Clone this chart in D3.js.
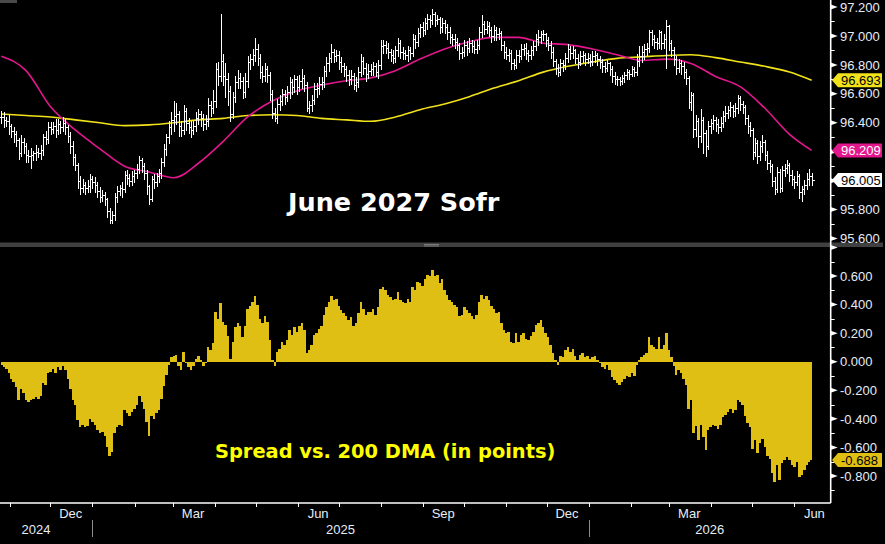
<!DOCTYPE html>
<html>
<head>
<meta charset="utf-8">
<script src="https://cdnjs.cloudflare.com/ajax/libs/d3/7.8.5/d3.min.js"></script>
<style>
  html, body { margin: 0; padding: 0; background: #000; }
  svg { display: block; }
</style>
</head>
<body>
<svg id="chart" width="885" height="544"></svg>
<script>
// daily bars, June 2027 SOFR future
var closes = [
  96.44,96.42,96.41,96.38,96.34,96.32,96.28,96.19,96.27,96.24,
  96.18,96.17,96.18,96.19,96.20,96.19,96.21,96.30,96.29,96.37,
  96.36,96.38,96.35,96.39,96.37,96.40,96.37,96.31,96.24,96.16,
  96.11,96.00,95.95,95.97,95.95,95.96,96.01,95.99,95.97,95.93,
  95.89,95.90,95.87,95.79,95.73,95.76,95.89,95.93,95.95,95.94,
  96.04,96.02,96.00,96.03,96.05,96.08,96.14,96.10,96.05,95.96,
  95.87,96.01,95.99,96.03,96.05,96.13,96.22,96.30,96.37,96.42,
  96.45,96.46,96.38,96.35,96.48,96.40,96.37,96.35,96.38,96.43,
  96.46,96.43,96.39,96.41,96.52,96.50,96.55,96.77,96.72,96.83,
  96.72,96.70,96.62,96.46,96.58,96.68,96.71,96.69,96.61,96.69,
  96.82,96.84,96.87,96.91,96.85,96.75,96.72,96.77,96.73,96.60,
  96.47,96.43,96.53,96.55,96.60,96.58,96.61,96.68,96.65,96.70,
  96.65,96.69,96.71,96.66,96.50,96.52,96.56,96.63,96.64,96.67,
  96.68,96.76,96.81,96.85,96.89,96.86,96.87,96.82,96.79,96.77,
  96.73,96.70,96.72,96.66,96.68,96.75,96.83,96.78,96.74,96.76,
  96.77,96.79,96.75,96.80,96.93,96.94,96.92,96.89,96.87,96.85,
  96.90,96.95,96.89,96.88,96.87,96.90,96.88,96.98,96.96,97.02,
  97.06,97.04,97.09,97.12,97.11,97.15,97.11,97.12,97.06,97.09,
  97.06,97.03,96.99,96.98,96.96,96.94,96.88,96.89,96.94,96.92,
  96.95,96.93,96.91,96.94,97.03,97.08,97.05,97.07,97.04,97.00,
  97.04,97.01,97.02,96.94,96.89,96.87,96.88,96.81,96.80,96.87,
  96.86,96.91,96.92,96.88,96.87,96.90,96.93,96.98,96.99,97.01,
  97.01,96.97,96.94,96.89,96.83,96.78,96.75,96.81,96.80,96.85,
  96.91,96.88,96.90,96.85,96.82,96.86,96.87,96.84,96.85,96.83,
  96.86,96.87,96.84,96.82,96.79,96.78,96.81,96.77,96.72,96.70,
  96.70,96.69,96.71,96.73,96.75,96.74,96.77,96.75,96.83,96.86,
  96.89,96.91,96.92,97.03,96.98,96.96,96.95,97.03,96.95,96.98,
  97.07,96.95,96.90,96.84,96.78,96.81,96.79,96.75,96.71,96.54,
  96.59,96.36,96.41,96.31,96.42,96.33,96.24,96.38,96.40,96.42,
  96.39,96.37,96.40,96.45,96.47,96.49,96.51,96.48,96.50,96.57,
  96.53,96.51,96.43,96.38,96.35,96.20,96.26,96.17,96.24,96.27,
  96.18,96.12,96.10,96.00,95.94,96.06,95.95,96.07,96.09,96.11,
  96.04,96.01,95.99,96.03,95.92,95.94,95.97,96.01,96.03,96.005
];
var highs = [
  96.49,96.48,96.45,96.46,96.40,96.38,96.35,96.30,96.32,96.30,
  96.27,96.22,96.23,96.21,96.25,96.23,96.25,96.33,96.35,96.41,
  96.41,96.41,96.43,96.43,96.42,96.45,96.43,96.39,96.34,96.28,
  96.19,96.13,96.04,96.02,96.00,96.01,96.05,96.04,96.03,96.00,
  95.96,95.94,95.93,95.89,95.82,95.80,95.92,95.97,95.98,96.00,
  96.07,96.08,96.05,96.07,96.08,96.12,96.18,96.16,96.13,96.08,
  95.98,96.04,96.05,96.06,96.09,96.16,96.26,96.33,96.42,96.48,
  96.56,96.54,96.49,96.42,96.53,96.51,96.44,96.42,96.42,96.48,
  96.50,96.49,96.47,96.46,96.58,96.56,96.63,96.82,96.83,97.16,
  96.88,96.82,96.75,96.66,96.62,96.73,96.77,96.75,96.72,96.75,
  96.87,96.88,96.92,96.99,96.95,96.88,96.80,96.82,96.80,96.76,
  96.63,96.51,96.57,96.60,96.64,96.63,96.66,96.72,96.71,96.74,
  96.73,96.74,96.78,96.74,96.69,96.56,96.60,96.68,96.68,96.72,
  96.72,96.80,96.86,96.89,96.95,96.92,96.91,96.90,96.86,96.82,
  96.80,96.77,96.77,96.75,96.72,96.79,96.88,96.86,96.82,96.81,
  96.81,96.83,96.82,96.84,96.98,96.98,96.97,96.96,96.92,96.91,
  96.94,96.99,96.98,96.93,96.91,96.94,96.93,97.02,97.01,97.06,
  97.09,97.10,97.13,97.16,97.15,97.19,97.17,97.15,97.14,97.13,
  97.12,97.09,97.07,97.02,97.02,96.99,96.96,96.93,96.98,96.97,
  96.99,96.98,96.97,96.98,97.07,97.15,97.11,97.11,97.10,97.07,
  97.08,97.07,97.06,97.04,96.97,96.93,96.92,96.91,96.85,96.91,
  96.91,96.95,96.95,96.96,96.91,96.94,96.97,97.02,97.05,97.04,
  97.05,97.03,97.00,96.97,96.93,96.85,96.81,96.85,96.84,96.89,
  96.95,96.94,96.94,96.92,96.88,96.90,96.90,96.89,96.89,96.88,
  96.90,96.90,96.89,96.87,96.85,96.83,96.84,96.83,96.80,96.76,
  96.73,96.72,96.74,96.76,96.78,96.77,96.80,96.79,96.88,96.94,
  96.94,96.95,96.96,97.05,97.05,97.01,96.99,97.05,97.04,97.02,
  97.12,97.08,96.98,96.93,96.87,96.85,96.84,96.83,96.78,96.73,
  96.62,96.61,96.46,96.44,96.50,96.45,96.36,96.42,96.43,96.46,
  96.45,96.43,96.45,96.49,96.52,96.52,96.55,96.53,96.54,96.60,
  96.59,96.56,96.53,96.46,96.41,96.37,96.30,96.29,96.28,96.32,
  96.29,96.21,96.15,96.12,96.03,96.10,96.09,96.11,96.12,96.15,
  96.13,96.08,96.04,96.07,96.05,95.97,96.01,96.06,96.09,96.06
];
var lows = [
  96.40,96.37,96.38,96.32,96.30,96.27,96.24,96.15,96.17,96.19,
  96.13,96.13,96.09,96.14,96.14,96.16,96.15,96.18,96.25,96.26,
  96.32,96.33,96.30,96.32,96.33,96.34,96.32,96.27,96.19,96.11,
  96.07,95.95,95.91,95.92,95.91,95.92,95.92,95.95,95.92,95.89,
  95.85,95.86,95.83,95.75,95.71,95.71,95.73,95.85,95.90,95.89,
  95.92,95.98,95.96,95.97,95.99,96.02,96.05,96.06,96.01,95.91,
  95.84,95.86,95.95,95.96,95.99,96.02,96.10,96.18,96.26,96.32,
  96.34,96.39,96.31,96.31,96.32,96.35,96.33,96.30,96.32,96.34,
  96.39,96.38,96.35,96.36,96.38,96.45,96.47,96.51,96.66,96.69,
  96.66,96.58,96.52,96.41,96.43,96.54,96.64,96.64,96.57,96.58,
  96.65,96.77,96.80,96.83,96.80,96.71,96.68,96.69,96.68,96.56,
  96.43,96.41,96.40,96.49,96.52,96.53,96.55,96.57,96.60,96.61,
  96.60,96.62,96.64,96.62,96.48,96.47,96.48,96.53,96.58,96.60,
  96.63,96.65,96.72,96.76,96.82,96.82,96.83,96.77,96.75,96.72,
  96.69,96.66,96.67,96.63,96.62,96.65,96.72,96.74,96.69,96.71,
  96.73,96.73,96.72,96.71,96.77,96.88,96.88,96.85,96.83,96.81,
  96.82,96.86,96.85,96.84,96.84,96.83,96.84,96.86,96.92,96.93,
  96.99,97.00,97.01,97.05,97.06,97.08,97.07,97.08,97.02,97.03,
  97.02,96.98,96.95,96.94,96.92,96.90,96.84,96.85,96.86,96.87,
  96.89,96.89,96.88,96.88,96.91,96.99,97.01,97.02,97.00,96.96,
  96.97,96.97,96.98,96.90,96.85,96.84,96.83,96.77,96.77,96.78,
  96.82,96.84,96.87,96.84,96.83,96.84,96.87,96.90,96.94,96.95,
  96.97,96.93,96.90,96.85,96.79,96.74,96.72,96.73,96.76,96.77,
  96.82,96.84,96.85,96.81,96.78,96.80,96.82,96.80,96.81,96.79,
  96.80,96.82,96.80,96.78,96.75,96.75,96.76,96.73,96.68,96.67,
  96.66,96.66,96.67,96.68,96.70,96.70,96.72,96.72,96.73,96.79,
  96.82,96.84,96.87,96.89,96.94,96.92,96.91,96.92,96.91,96.92,
  96.78,96.90,96.86,96.80,96.74,96.75,96.74,96.71,96.67,96.50,
  96.49,96.30,96.31,96.23,96.27,96.19,96.17,96.22,96.33,96.36,
  96.34,96.33,96.34,96.37,96.41,96.43,96.45,96.44,96.45,96.47,
  96.49,96.47,96.39,96.33,96.31,96.15,96.17,96.12,96.14,96.20,
  96.14,96.08,96.06,95.96,95.91,95.92,95.92,95.93,96.03,96.05,
  96.00,95.97,95.95,95.97,95.88,95.86,95.91,95.94,95.97,95.97
];
// close minus 200 DMA, same days
var spread = [
  -0.02,-0.04,-0.05,-0.08,-0.12,-0.14,-0.18,-0.27,-0.19,-0.22,
  -0.27,-0.28,-0.27,-0.26,-0.25,-0.26,-0.24,-0.15,-0.16,-0.08,
  -0.07,-0.05,-0.08,-0.04,-0.06,-0.03,-0.06,-0.12,-0.19,-0.27,
  -0.30,-0.41,-0.46,-0.44,-0.46,-0.45,-0.40,-0.42,-0.44,-0.48,
  -0.50,-0.49,-0.52,-0.60,-0.66,-0.63,-0.50,-0.46,-0.44,-0.45,
  -0.34,-0.36,-0.38,-0.35,-0.33,-0.30,-0.24,-0.28,-0.33,-0.42,
  -0.52,-0.38,-0.40,-0.36,-0.34,-0.26,-0.17,-0.09,-0.02,0.03,
  0.04,0.05,-0.03,-0.06,0.07,-0.01,-0.04,-0.06,-0.03,0.02,
  0.04,0.01,-0.03,-0.01,0.10,0.08,0.13,0.35,0.30,0.41,
  0.28,0.26,0.18,0.02,0.14,0.24,0.27,0.25,0.17,0.25,
  0.37,0.39,0.42,0.46,0.40,0.30,0.27,0.32,0.28,0.15,
  0.01,-0.03,0.07,0.09,0.14,0.12,0.15,0.22,0.19,0.24,
  0.21,0.25,0.27,0.22,0.06,0.08,0.12,0.19,0.20,0.23,
  0.25,0.33,0.38,0.42,0.46,0.43,0.44,0.39,0.36,0.34,
  0.32,0.29,0.31,0.25,0.27,0.34,0.42,0.37,0.33,0.35,
  0.35,0.37,0.33,0.38,0.51,0.52,0.50,0.47,0.45,0.43,
  0.44,0.49,0.43,0.42,0.41,0.44,0.42,0.52,0.50,0.56,
  0.55,0.53,0.58,0.61,0.60,0.64,0.60,0.61,0.55,0.58,
  0.50,0.47,0.43,0.42,0.40,0.38,0.32,0.33,0.38,0.36,
  0.34,0.32,0.30,0.33,0.42,0.47,0.44,0.46,0.43,0.39,
  0.37,0.34,0.35,0.27,0.22,0.20,0.21,0.14,0.13,0.20,
  0.14,0.19,0.20,0.16,0.15,0.18,0.21,0.26,0.27,0.29,
  0.24,0.20,0.17,0.12,0.06,0.01,-0.02,0.04,0.03,0.08,
  0.10,0.07,0.09,0.04,0.01,0.05,0.06,0.03,0.04,0.02,
  0.03,0.04,0.01,-0.01,-0.04,-0.05,-0.02,-0.06,-0.11,-0.13,
  -0.15,-0.16,-0.14,-0.12,-0.10,-0.11,-0.08,-0.10,-0.02,0.01,
  0.03,0.05,0.06,0.17,0.12,0.10,0.09,0.17,0.09,0.12,
  0.20,0.08,0.03,-0.03,-0.09,-0.06,-0.08,-0.12,-0.16,-0.33,
  -0.27,-0.50,-0.45,-0.55,-0.44,-0.53,-0.62,-0.48,-0.46,-0.44,
  -0.45,-0.47,-0.44,-0.39,-0.37,-0.35,-0.33,-0.36,-0.34,-0.27,
  -0.28,-0.30,-0.38,-0.43,-0.46,-0.61,-0.55,-0.64,-0.57,-0.54,
  -0.60,-0.66,-0.68,-0.78,-0.84,-0.72,-0.83,-0.71,-0.69,-0.67,
  -0.69,-0.72,-0.74,-0.70,-0.81,-0.79,-0.76,-0.72,-0.70,-0.688
];
// moving averages, read every 10th bar
var maIdx = [0,10,20,30,40,50,60,70,80,90,100,110,120,130,140,150,160,170,180,190,200,210,220,230,240,250,260,270,280,290,300,310,320,329];
var ma200 = [96.46,96.45,96.44,96.42,96.40,96.38,96.385,96.40,96.42,96.43,96.45,96.455,96.45,96.43,96.42,96.41,96.44,96.49,96.53,96.58,96.64,96.69,96.75,96.79,96.82,96.845,96.855,96.865,96.87,96.85,96.82,96.79,96.75,96.693];
var ma50 = [96.86,96.76,96.51,96.35,96.22,96.10,96.06,96.02,96.12,96.27,96.44,96.55,96.62,96.66,96.69,96.71,96.76,96.84,96.91,96.96,96.99,96.99,96.95,96.94,96.91,96.87,96.83,96.84,96.81,96.72,96.65,96.50,96.32,96.209];

var priceTicks = [95.6, 95.8, 96.0, 96.2, 96.4, 96.6, 96.8, 97.0, 97.2];
var priceLabels = ['95.600', '95.800', '', '', '96.400', '96.600', '96.800', '97.000', '97.200'];
var spreadTicks = [-0.8, -0.6, -0.4, -0.2, 0, 0.2, 0.4, 0.6, 0.8];
var spreadLabels = ['-0.800', '-0.600', '-0.400', '-0.200', '0.000', '0.200', '0.400', '0.600', ''];
var monthLabels = ['Dec', 'Mar', 'Jun', 'Sep', 'Dec', 'Mar', 'Jun'];
var monthLabelDates = ['2024-12', '2025-03', '2025-06', '2025-09', '2025-12', '2026-03', '2026-06'];
var yearLabels = ['2024', '2025', '2026'];

var firstDay = new Date(2024, 9, 26), lastDay = new Date(2026, 5, 14);

var svg = d3.select('#chart');
var axisX = 830.7, axisBottom = 503;
var white = '#ffffff', txt = '#e6edf6';
var yellow = '#f2e21a', magenta = '#e3178d', gold = '#dfbf13';
var fmt = d3.formatLocale({decimal: '.', thousands: ',', grouping: [3], currency: ['', ''], minus: '-'}).format('.3f');

var x = d3.scaleTime().domain([new Date(2024, 9, 25), new Date(2026, 5, 28)]).range([0, axisX]);
var barDate = d3.scaleLinear().domain([0, closes.length - 1]).range([firstDay, lastDay]);
var yTop = d3.scaleLinear().domain([95.6, 97.2]).range([238.5, 7]);
var yBot = d3.scaleLinear().domain([-0.8, 0.6]).range([476, 276]);

var defs = svg.append('defs');
defs.append('clipPath').attr('id', 'clipTop').append('rect').attr('x', 0).attr('y', 0).attr('width', axisX).attr('height', 242);
defs.append('clipPath').attr('id', 'clipBot').append('rect').attr('x', 0).attr('y', 248).attr('width', axisX).attr('height', axisBottom - 248);

svg.append('rect').attr('width', 885).attr('height', 544).attr('fill', '#000');
svg.append('rect').attr('x', 0).attr('y', 0).attr('width', 17).attr('height', 3).attr('fill', '#4a4a4a');

// ---- top panel
var gTop = svg.append('g').attr('clip-path', 'url(#clipTop)');

var maLine = function(vals) {
  return d3.line().curve(d3.curveMonotoneX)
    .x(function(d, i) { return x(barDate(maIdx[i])); })
    .y(function(d) { return yTop(d); })(vals);
};
gTop.append('path').attr('d', maLine(ma200)).attr('fill', 'none').attr('stroke', yellow).attr('stroke-width', 1.6);
gTop.append('path').attr('d', maLine(ma50)).attr('fill', 'none').attr('stroke', magenta).attr('stroke-width', 1.6);

var bx = function(i) { return Math.round(x(barDate(i))) + 0.5; };
var by = function(v) { return Math.round(yTop(v)) + 0.5; };
gTop.append('g').attr('stroke', white).attr('stroke-width', 1).attr('fill', 'none').attr('shape-rendering', 'crispEdges')
  .selectAll('path').data(closes).enter().append('path')
  .attr('d', function(c, i) {
    var xx = bx(i), o = i ? closes[i - 1] : c;
    return 'M' + xx + ',' + by(highs[i]) + 'V' + by(lows[i]) +
      'M' + (xx - 2) + ',' + by(o) + 'H' + xx +
      'M' + xx + ',' + by(c) + 'H' + (xx + 2);
  });

svg.append('text').attr('x', 288).attr('y', 211)
  .attr('font-family', 'DejaVu Sans, Verdana, sans-serif').attr('font-weight', 'bold').attr('font-size', 25.5)
  .attr('fill', white).text('June 2027 Sofr');

// ---- splitter
svg.append('rect').attr('x', 0).attr('y', 242.5).attr('width', 883).attr('height', 4.5).attr('fill', '#404040');
svg.append('path').attr('d', 'M424,244.5H439M424,246H439').attr('stroke', '#8a8a8a').attr('stroke-width', 0.8);

// ---- bottom panel
var gBot = svg.append('g').attr('clip-path', 'url(#clipBot)');
var area = d3.area().curve(d3.curveStep)
  .x(function(d, i) { return x(barDate(i)); })
  .y0(yBot(0))
  .y1(function(d) { return yBot(d); });
gBot.append('path').attr('d', area(spread)).attr('fill', gold).attr('shape-rendering', 'crispEdges');

svg.append('text').attr('x', 215).attr('y', 458)
  .attr('font-family', 'DejaVu Sans, Verdana, sans-serif').attr('font-weight', 'bold').attr('font-size', 19.4)
  .attr('fill', '#ffff00').text('Spread vs. 200 DMA (in points)');

// ---- right axis
svg.append('path').attr('d', 'M' + axisX + ',0V' + axisBottom).attr('stroke', white).attr('stroke-width', 1.6);
svg.append('path').attr('d', 'M0,' + axisBottom + 'H' + axisX).attr('stroke', white).attr('stroke-width', 1.4);

var arrow = function(y) { return 'M' + axisX + ',' + (y - 2.5) + 'L' + (axisX + 7) + ',' + y + 'L' + axisX + ',' + (y + 2.5) + 'Z'; };
var minor = function(y) { return 'M' + axisX + ',' + y + 'H' + (axisX + 4); };

var rAxis = svg.append('g');
rAxis.selectAll('path.tp').data(priceTicks).enter().append('path').attr('class', 'tp')
  .attr('d', function(d) { return arrow(yTop(d)); }).attr('fill', white);
rAxis.selectAll('path.tpm').data(priceTicks.slice(0, -1)).enter().append('path').attr('class', 'tpm')
  .attr('d', function(d) { return minor(Math.round(yTop(d + 0.1)) + 0.5); }).attr('stroke', white);
rAxis.selectAll('path.bp').data(spreadTicks).enter().append('path').attr('class', 'bp')
  .attr('d', function(d) { return arrow(yBot(d)); }).attr('fill', white);
rAxis.selectAll('path.bpm').data(spreadTicks.slice(0, -1).concat([-1.0])).enter().append('path').attr('class', 'bpm')
  .attr('d', function(d) { return minor(Math.round(yBot(d + 0.1)) + 0.5); }).attr('stroke', white);

rAxis.selectAll('text.tl').data(priceTicks).enter().append('text').attr('class', 'tl')
  .attr('x', 840).attr('y', function(d) { return yTop(d); }).attr('dy', '0.36em')
  .attr('font-family', 'Liberation Sans, Arial, sans-serif').attr('font-size', 13).attr('fill', txt)
  .text(function(d, i) { return priceLabels[i]; });
rAxis.selectAll('text.bl').data(spreadTicks).enter().append('text').attr('class', 'bl')
  .attr('x', 840).attr('y', function(d) { return yBot(d); }).attr('dy', '0.36em')
  .attr('font-family', 'Liberation Sans, Arial, sans-serif').attr('font-size', 13).attr('fill', txt)
  .text(function(d, i) { return spreadLabels[i]; });

// last value badges
var badge = function(yv, val, fill, color) {
  var g = svg.append('g');
  g.append('path').attr('d', 'M832,' + yv + 'L838,' + (yv - 7) + 'H882V' + (yv + 7) + 'H838Z').attr('fill', fill);
  g.append('text').attr('x', 841).attr('y', yv).attr('dy', '0.36em')
    .attr('font-family', 'Liberation Sans, Arial, sans-serif').attr('font-size', 13).attr('fill', color).text(fmt(val));
};
var last = closes.length - 1;
badge(yTop(ma200[ma200.length - 1]), ma200[ma200.length - 1], yellow, '#000');
badge(yTop(ma50[ma50.length - 1]), ma50[ma50.length - 1], magenta, '#fff');
badge(yTop(closes[last]), closes[last], '#ffffff', '#000');
badge(yBot(spread[last]), spread[last], gold, '#000');

// ---- time axis
var months = d3.timeMonth.range(x.domain()[0], x.domain()[1]);
svg.append('g').selectAll('path').data(months).enter().append('path')
  .attr('d', function(d) { return 'M' + (Math.round(x(d)) + 0.5) + ',' + axisBottom + 'V' + (axisBottom + 4); })
  .attr('stroke', white);

var parseMonth = d3.timeParse('%Y-%m');
svg.append('g').selectAll('text').data(monthLabelDates).enter().append('text')
  .attr('x', function(d) { return x(d3.timeDay.offset(parseMonth(d), 15)); })
  .attr('y', 518).attr('text-anchor', 'middle')
  .attr('font-family', 'Liberation Sans, Arial, sans-serif').attr('font-size', 13).attr('fill', txt)
  .text(function(d, i) { return monthLabels[i]; });

var yearStarts = [new Date(2025, 0, 1), new Date(2026, 0, 1)];
svg.append('g').selectAll('path').data(yearStarts).enter().append('path')
  .attr('d', function(d) { return 'M' + (Math.round(x(d)) + 0.5) + ',520V537'; })
  .attr('stroke', '#8c8c8c');
var yearCenters = [36, (x(yearStarts[0]) + x(yearStarts[1])) / 2, (x(yearStarts[1]) + axisX) / 2];
svg.append('g').selectAll('text').data(yearLabels).enter().append('text')
  .attr('x', function(d, i) { return yearCenters[i]; })
  .attr('y', 534).attr('text-anchor', 'middle')
  .attr('font-family', 'Liberation Sans, Arial, sans-serif').attr('font-size', 13).attr('fill', txt)
  .text(function(d) { return d; });
</script>
</body>
</html>
